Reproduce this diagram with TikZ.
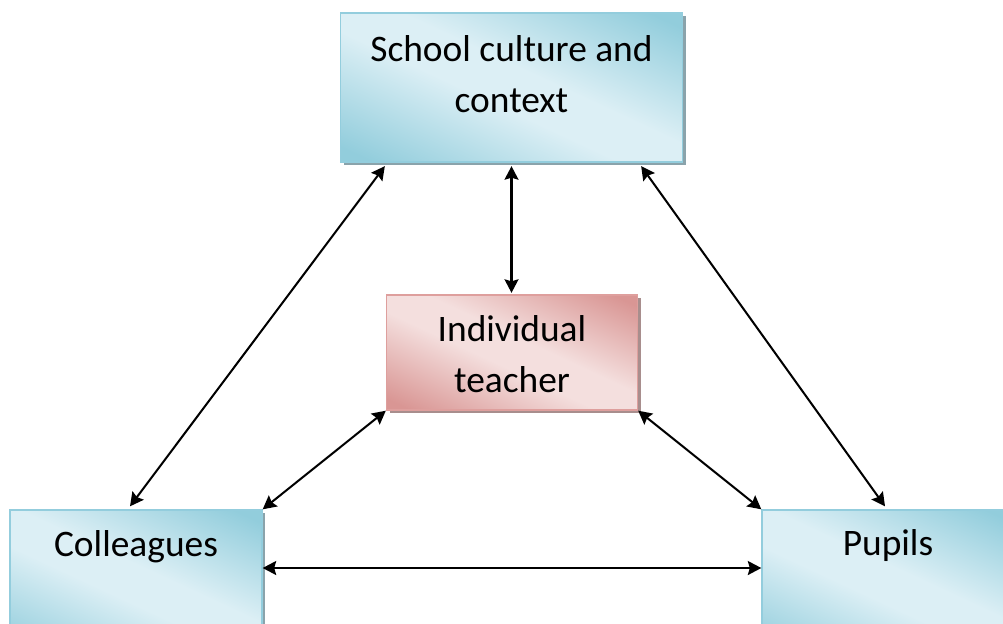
\documentclass[tikz,border=0pt]{standalone}
\usepackage{fontspec}
\setmainfont{Carlito}
\usetikzlibrary{arrows.meta,shadows}
\definecolor{bdark}{HTML}{92CDDC}
\definecolor{blight}{HTML}{DCEFF5}
\definecolor{bline}{HTML}{93CDDD}
\definecolor{bshadow}{HTML}{8AA3AB}
\definecolor{rdark}{HTML}{D99694}
\definecolor{rlight}{HTML}{F4DFDE}
\definecolor{rline}{HTML}{DE9F9D}
\definecolor{rshadow}{HTML}{A88E8D}
\pgfdeclareverticalshading{bshade}{100bp}{color(0bp)=(bdark); color(20bp)=(bdark); color(45bp)=(blight); color(55bp)=(blight); color(80bp)=(bdark); color(100bp)=(bdark)}
\pgfdeclareverticalshading{rshade}{100bp}{color(0bp)=(rdark); color(20bp)=(rdark); color(45bp)=(rlight); color(55bp)=(rlight); color(80bp)=(rdark); color(100bp)=(rdark)}
\tikzset{
  boxbase/.style={rectangle, inner sep=0pt, line width=0.8pt},
  bluebox/.style={boxbase, draw=bline, shading=bshade, shading angle=-25,
    drop shadow={shadow xshift=0.065cm, shadow yshift=-0.065cm, fill=bshadow, opacity=1}},
  redbox/.style={boxbase, draw=rline, shading=rshade, shading angle=-25,
    drop shadow={shadow xshift=0.065cm, shadow yshift=-0.065cm, fill=rshadow, opacity=1}},
  lbl/.style={font=\fontsize{21.3pt}{29pt}\selectfont, align=center, inner sep=0pt, anchor=north},
  link/.style={{Stealth[length=0.27cm,width=0.28cm,inset=0.04cm]}-{Stealth[length=0.27cm,width=0.28cm,inset=0.04cm]}, line width=1.15pt, black}
}
\begin{document}
\begin{tikzpicture}[x=0.02cm,y=-0.02cm]
\useasboundingbox (0,0) rectangle (1003,623);
\begin{scope}
\clip (0,0) rectangle (1003,623);
\node[bluebox, minimum width=6.84cm, minimum height=2.98cm] (school) at (511.5,87.5) {};
\node[redbox, minimum width=5.02cm, minimum height=2.3cm] (teacher) at (512,352.5) {};
\node[bluebox, minimum width=5.04cm, minimum height=2.98cm] (coll) at (136,584.5) {};
\node[bluebox, minimum width=5.04cm, minimum height=2.98cm] (pupils) at (888,584.5) {};
\end{scope}
\node[lbl] (tschool) at ([yshift=-0.45cm]school.north) {School culture and\\context};
\node[lbl] (tteacher) at ([yshift=-0.41cm]teacher.north) {Individual\\teacher};
\node[lbl] (tcoll) at ([yshift=-0.41cm]coll.north) {Colleagues};
\node[lbl] (tpupils) at ([yshift=-0.39cm]pupils.north) {Pupils};
\draw[link] ([yshift=-0.07cm]school.south) -- ([yshift=0.03cm]school.south |- teacher.north);
\draw[link] ([xshift=0.9cm,yshift=-0.07cm]school.south west) -- ([xshift=-0.12cm,yshift=0.06cm]coll.north);
\draw[link] ([xshift=-0.84cm,yshift=-0.07cm]school.south east) -- ([xshift=-0.06cm,yshift=0.06cm]pupils.north);
\draw[link] (teacher.south west) -- (coll.north east);
\draw[link] (teacher.south east) -- (pupils.north west);
\draw[link] ([yshift=0.33cm]coll.east) -- ([yshift=0.33cm]pupils.west);
\end{tikzpicture}
\end{document}
